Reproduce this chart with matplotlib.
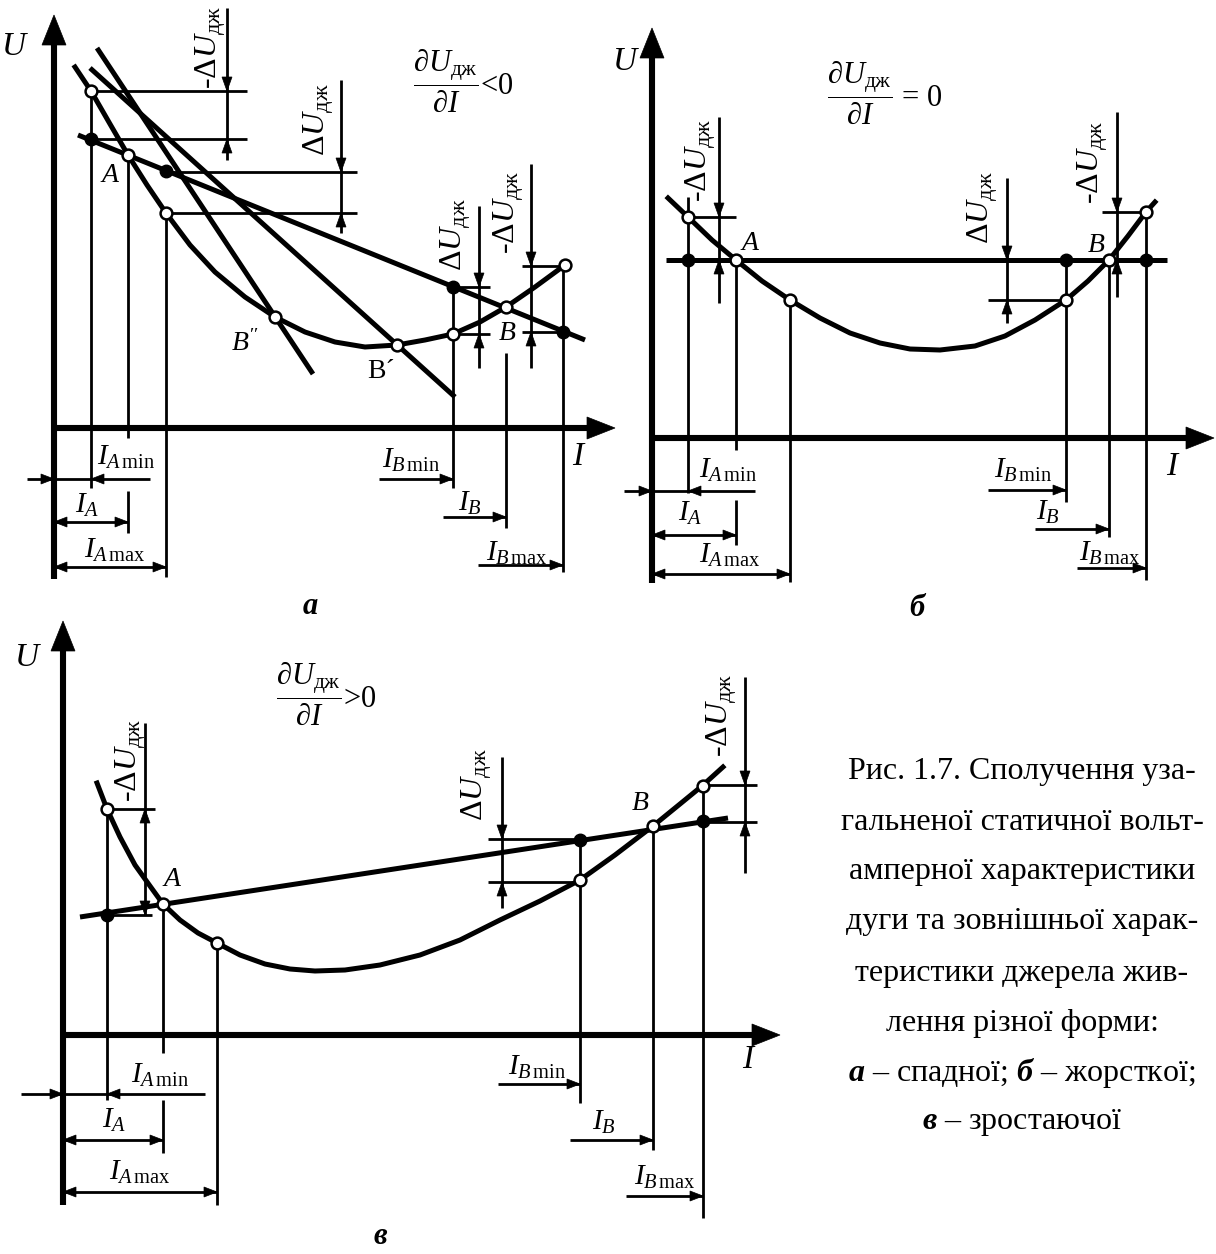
import matplotlib.pyplot as plt
from matplotlib.patches import Polygon

plt.rcParams['font.family'] = ['Liberation Serif', 'DejaVu Serif']
plt.rcParams['mathtext.fontset'] = 'custom'
plt.rcParams['mathtext.rm'] = 'Liberation Serif'
plt.rcParams['mathtext.it'] = 'Liberation Serif:italic'
plt.rcParams['mathtext.bf'] = 'Liberation Serif:bold:italic'

DU = r'$\Delta U_{\mathrm{дж}}$'
NDU = '-' + DU
IAMIN, IA, IAMAX = r'$I_{A\,\mathrm{min}}$', r'$I_{A}$', r'$I_{A\,\mathrm{max}}$'
IBMIN, IB, IBMAX = r'$I_{B\,\mathrm{min}}$', r'$I_{B}$', r'$I_{B\,\mathrm{max}}$'
FRAC = r'$\dfrac{\partial U_{\mathrm{дж}}}{\partial I}$'

# ---------- а : falling source characteristic ----------
a_origin = (54, 428)
a_limits = (15, 615, 579)            # top of U, tip of I, bottom of U
a_arc_x = [75, 91, 110, 128, 147, 166, 190, 215, 245, 275, 305, 335, 365, 397, 425, 453, 480, 506, 535, 565]
a_arc_y = [67, 91, 124, 155, 185, 213, 245, 272, 297, 317, 332, 342, 347, 345, 340, 334, 322, 307, 287, 265]
a_sources = [((97, 48), (313, 374)), ((90, 68), (455, 397)), ((78, 135), (585, 340))]
a_open = [(91, 91), (128, 155), (166, 213), (275, 317), (397, 345), (453, 334), (506, 307), (565, 265)]
a_filled = [(91, 139), (166, 171), (453, 287), (563, 332)]
a_vlines = [(91, 91, 488), (128, 155, 438), (128, 491, 533), (166, 213, 577),
            (453, 287, 488), (506, 353, 528), (563, 265, 572)]
a_hlines = [(91, 91, 247), (139, 91, 247), (172, 166, 357), (213, 166, 357),
            (287, 453, 490), (334, 453, 490), (266, 522, 565), (332, 522, 563)]
a_delta = [(227, 8, 160, [(91, 1), (139, -1)]), (341, 80, 233, [(172, 1), (213, -1)]),
           (479, 206, 368, [(287, 1), (334, -1)]), (531, 164, 368, [(266, 1), (332, -1)])]
a_delta_text = [(NDU, 211, 47), (DU, 319, 120), (DU, 456, 235), (NDU, 509, 212)]
a_min_row = (479, 27, 150, 54, 91)
a_spans = [(522, 54, 128), (567, 54, 166)]
a_b_arrows = [(479, 379, 453), (517, 443, 506), (565, 478, 563)]
a_dim_text = [(IAMIN, 126, 457), (IA, 87, 505), (IAMAX, 115, 550),
              (IBMIN, 411, 460), (IB, 470, 503), (IBMAX, 517, 553)]
a_points_text = [('$A$', 110, 175), ("$B''$", 245, 343), ('B´', 381, 372), ('$B$', 507, 333)]
a_frac = (FRAC + '<0', 463, 80)
a_axis_text = [('$U$', 15, 47), ('$I$', 579, 457)]

# ---------- б : hard (flat) source characteristic ----------
b_origin = (652, 438)
b_limits = (28, 1214, 583)
b_arc_x = [668, 688, 712, 736, 762, 790, 820, 850, 880, 910, 940, 975, 1005, 1035, 1066, 1088, 1109, 1128, 1146, 1155]
b_arc_y = [198, 217, 240, 260, 281, 300, 318, 333, 343, 349, 350, 346, 336, 320, 300, 281, 260, 236, 212, 202]
b_sources = [((666, 260), (1167, 260))]
b_open = [(688, 217), (736, 260), (790, 300), (1066, 300), (1109, 260), (1146, 212)]
b_filled = [(688, 260), (1066, 260), (1146, 260)]
b_vlines = [(688, 197, 493), (736, 260, 450), (736, 500, 545), (790, 300, 582),
            (1066, 260, 502), (1109, 260, 537), (1146, 212, 580)]
b_hlines = [(217, 688, 736), (300, 988, 1066), (212, 1102, 1146)]
b_delta = [(719, 117, 303, [(217, 1), (260, -1)]), (1007, 178, 323, [(260, 1), (300, -1)]),
           (1117, 112, 297, [(212, 1), (260, -1)])]
b_delta_text = [(NDU, 701, 160), (DU, 983, 208), (NDU, 1093, 162)]
b_min_row = (491, 624, 755, 652, 688)
b_spans = [(535, 652, 736), (574, 652, 790)]
b_b_arrows = [(490, 988, 1066), (529, 1035, 1109), (568, 1077, 1146)]
b_dim_text = [(IAMIN, 728, 470), (IA, 690, 513), (IAMAX, 730, 555),
              (IBMIN, 1023, 470), (IB, 1048, 512), (IBMAX, 1110, 553)]
b_points_text = [('$A$', 750, 243), ('$B$', 1096, 245)]
b_frac = (FRAC + ' = 0', 885, 92)
b_axis_text = [('$U$', 626, 62), ('$I$', 1173, 467)]

# ---------- в : rising source characteristic ----------
c_origin = (63, 1035)
c_limits = (621, 780, 1205)
c_arc_x = [97, 107, 120, 135, 150, 163, 180, 198, 217, 240, 265, 290, 315, 345, 380, 420, 460,
           500, 540, 580, 615, 653, 680, 702, 723]
c_arc_y = [783, 809, 837, 865, 886, 904, 920, 933, 943, 955, 964, 969, 971, 970, 965, 955, 940,
           920, 901, 880, 855, 826, 804, 786, 767]
c_sources = [((80, 917), (728, 818))]
c_open = [(107, 809), (163, 904), (217, 943), (580, 880), (653, 826), (703, 786)]
c_filled = [(107, 915), (580, 840), (703, 821)]
c_vlines = [(107, 809, 1100), (163, 904, 1053), (163, 1100, 1153), (217, 943, 1205),
            (580, 840, 1103), (653, 826, 1150), (703, 786, 1218)]
c_hlines = [(809, 107, 155), (915, 107, 152), (839, 488, 580), (882, 488, 580),
            (785, 703, 757), (822, 703, 757)]
c_delta = [(145, 723, 915, [(809, -1), (915, 1)]), (502, 757, 908, [(839, 1), (882, -1)]),
           (745, 677, 873, [(785, 1), (822, -1)])]
c_delta_text = [(NDU, 131, 760), (DU, 477, 785), (NDU, 722, 715)]
c_min_row = (1094, 21, 205, 63, 107)
c_spans = [(1140, 63, 163), (1192, 63, 217)]
c_b_arrows = [(1084, 498, 580), (1140, 570, 653), (1196, 626, 703)]
c_dim_text = [(IAMIN, 160, 1075), (IA, 114, 1120), (IAMAX, 140, 1172),
              (IBMIN, 537, 1067), (IB, 604, 1122), (IBMAX, 665, 1177)]
c_points_text = [('$A$', 172, 880), ('$B$', 640, 803)]
c_frac = (FRAC + '>0', 326, 693)
c_axis_text = [('$U$', 28, 658), ('$I$', 749, 1060)]

panel_letters = [('а', 310, 606), ('б', 917, 608), ('в', 380, 1236)]

caption = ['Рис. 1.7. Сполучення уза-',
           'гальненої статичної вольт-',
           'амперної характеристики',
           'дуги та зовнішньої харак-',
           'теристики джерела жив-',
           'лення різної форми:',
           r'$\mathbf{а}$ – спадної; $\mathbf{б}$ – жорсткої;',
           r'$\mathbf{в}$ – зростаючої']
caption_x = 1022
caption_y = [772, 822, 872, 922, 973, 1023, 1073, 1123]

AX_LW, CURVE_LW, THIN_LW = 4.4, 3.6, 2.0

fig = plt.figure(figsize=(12.16, 12.54), dpi=100)
ax = fig.add_axes([0, 0, 1, 1])
ax.set_xlim(0, 1216)
ax.set_ylim(1254, 0)
ax.axis('off')


def head(tip, d, L=13, W=5):
    tx, ty = tip
    dx, dy = d
    nx, ny = -dy, dx
    pts = [(tx, ty), (tx - dx * L + nx * W, ty - dy * L + ny * W),
           (tx - dx * L - nx * W, ty - dy * L - ny * W)]
    ax.add_patch(Polygon(pts, closed=True, fc='k', ec='k', lw=0.5, zorder=4))


def seg(p, q, lw):
    ax.plot([p[0], q[0]], [p[1], q[1]], color='k', lw=lw, solid_capstyle='butt', zorder=3)


def draw_panel(origin, limits, arc_x, arc_y, sources, opened, filled, vlines, hlines,
               delta, delta_text, min_row, spans, b_arrows, dim_text, points_text,
               frac, axis_text):
    ox, oy = origin
    top, right, bottom = limits
    # coordinate axes with arrows
    seg((ox, bottom), (ox, top + 25), AX_LW)
    head((ox, top), (0, -1), L=30, W=12)
    seg((ox, oy), (right - 22, oy), AX_LW)
    head((right, oy), (1, 0), L=28, W=11)

    # arc characteristic and source characteristics
    ax.plot(arc_x, arc_y, color='k', lw=CURVE_LW, solid_joinstyle='round', zorder=3)
    for p, q in sources:
        seg(p, q, CURVE_LW)

    for x, y0, y1 in vlines:
        seg((x, y0), (x, y1), THIN_LW)
    for y, x0, x1 in hlines:
        seg((x0, y), (x1, y), THIN_LW)

    # voltage deviation indicators
    for x, y0, y1, tips in delta:
        seg((x, y0), (x, y1), THIN_LW)
        for ty, dr in tips:
            head((x, ty), (0, dr), L=14, W=5)
    for s, x, y in delta_text:
        ax.text(x, y, s, rotation=90, ha='center', va='center', fontsize=23)

    # current ranges under the I axis
    y, x0, x1, t_right, t_left = min_row
    seg((x0, y), (x1, y), THIN_LW)
    head((t_right, y), (1, 0))
    head((t_left, y), (-1, 0))
    for y, x0, x1 in spans:
        seg((x0, y), (x1, y), THIN_LW)
        head((x0, y), (-1, 0))
        head((x1, y), (1, 0))
    for y, x0, x1 in b_arrows:
        seg((x0, y), (x1, y), THIN_LW)
        head((x1, y), (1, 0))
    for s, x, y in dim_text:
        ax.text(x, y, s, ha='center', va='center', fontsize=21)

    px, py = zip(*opened)
    ax.plot(px, py, 'o', ms=8.5, mfc='white', mec='k', mew=1.8, zorder=6)
    px, py = zip(*filled)
    ax.plot(px, py, 'o', ms=9, mfc='k', mec='k', zorder=6)

    for s, x, y in points_text:
        ax.text(x, y, s, ha='center', va='center', fontsize=20)
    s, x, y = frac
    ax.text(x, y, s, ha='center', va='center', fontsize=22)
    for s, x, y in axis_text:
        ax.text(x, y, s, ha='center', va='center', fontsize=24)


draw_panel(a_origin, a_limits, a_arc_x, a_arc_y, a_sources, a_open, a_filled, a_vlines,
           a_hlines, a_delta, a_delta_text, a_min_row, a_spans, a_b_arrows, a_dim_text,
           a_points_text, a_frac, a_axis_text)
draw_panel(b_origin, b_limits, b_arc_x, b_arc_y, b_sources, b_open, b_filled, b_vlines,
           b_hlines, b_delta, b_delta_text, b_min_row, b_spans, b_b_arrows, b_dim_text,
           b_points_text, b_frac, b_axis_text)
draw_panel(c_origin, c_limits, c_arc_x, c_arc_y, c_sources, c_open, c_filled, c_vlines,
           c_hlines, c_delta, c_delta_text, c_min_row, c_spans, c_b_arrows, c_dim_text,
           c_points_text, c_frac, c_axis_text)

for s, x, y in panel_letters:
    ax.text(x, y, s, ha='center', va='center', fontsize=22, fontweight='bold', fontstyle='italic')

for s, y in zip(caption, caption_y):
    ax.text(caption_x, y, s, ha='center', va='center', fontsize=23)

fig.savefig('out.png', dpi=100)
